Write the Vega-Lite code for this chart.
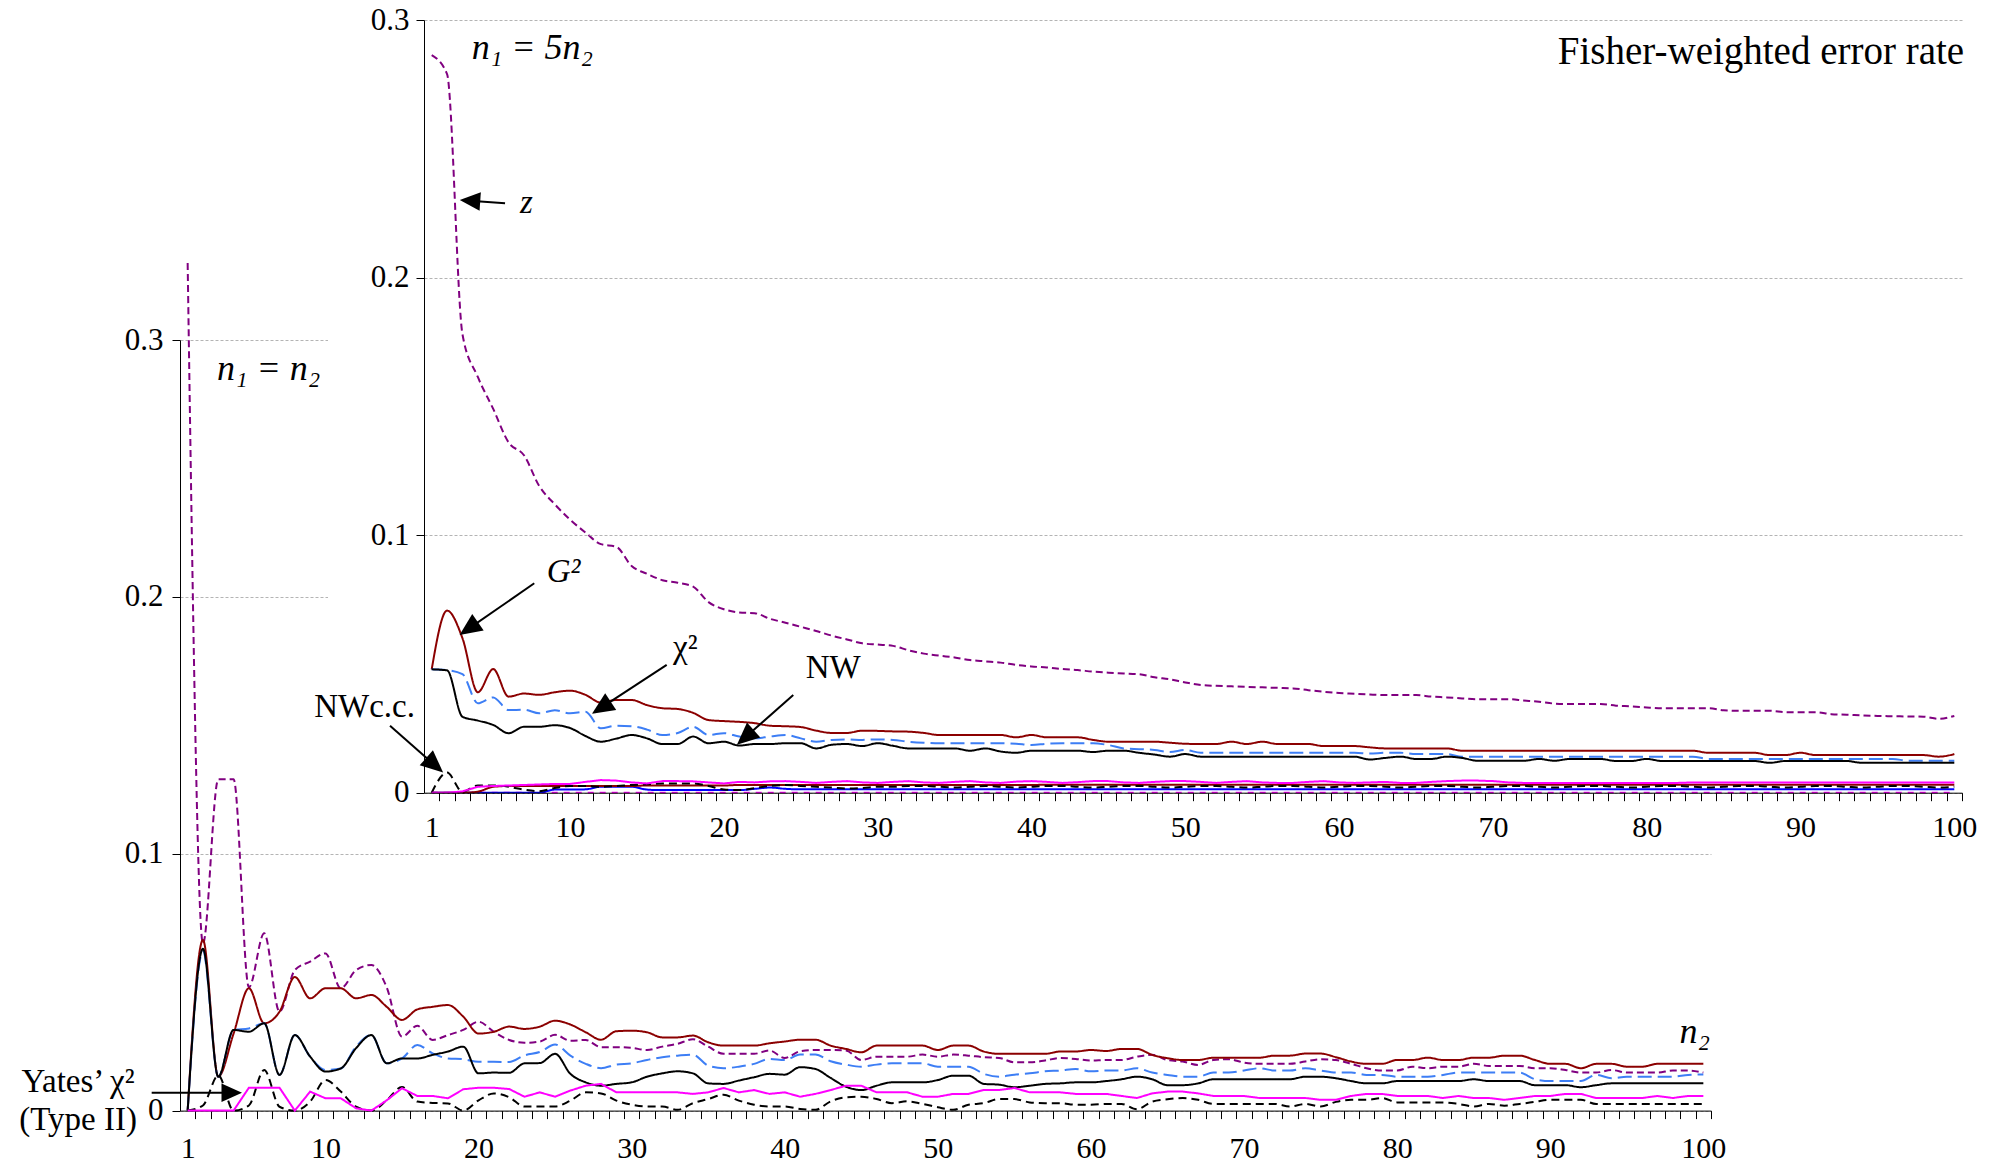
{
"$schema": "https://vega.github.io/schema/vega-lite/v6.json",
"width": 2004,
"height": 1167,
"autosize": {"type": "none"},
"padding": 0,
"background": "#ffffff",
"config": {
 "view": {"stroke": null},
 "font": "Liberation Serif",
 "axis": {"labelFont": "Liberation Serif", "labelFontSize": 30, "labelColor": "#000000", "domainColor": "#000000", "domainWidth": 1, "tickColor": "#000000", "tickWidth": 1, "tickSize": 8, "labelFlush": false, "labelOverlap": false}
},
"datasets": {
"lower": [
{"n2":1,"z":0.33,"G2":0,"chi2":0,"NW":0,"NWcc":0,"Yates":0},
{"n2":2,"z":0.065,"G2":0.0664,"chi2":0.062,"NW":0.063,"NWcc":0.002,"Yates":0},
{"n2":3,"z":0.129,"G2":0.0132,"chi2":0.0132,"NW":0.0132,"NWcc":0.0137,"Yates":0},
{"n2":4,"z":0.129,"G2":0.030,"chi2":0.0314,"NW":0.0314,"NWcc":0,"Yates":0},
{"n2":5,"z":0.048,"G2":0.0476,"chi2":0.032,"NW":0.0307,"NWcc":0.002,"Yates":0.0089},
{"n2":6,"z":0.069,"G2":0.034,"chi2":0.034,"NW":0.034,"NWcc":0.0158,"Yates":0.0089},
{"n2":7,"z":0.0385,"G2":0.0385,"chi2":0.0139,"NW":0.0139,"NWcc":0.0015,"Yates":0.0089},
{"n2":8,"z":0.0547,"G2":0.052,"chi2":0.0294,"NW":0.0294,"NWcc":0,"Yates":0},
{"n2":9,"z":0.058,"G2":0.0437,"chi2":0.021,"NW":0.021,"NWcc":0.0035,"Yates":0.0074},
{"n2":10,"z":0.0612,"G2":0.0476,"chi2":0.0158,"NW":0.0152,"NWcc":0.0119,"Yates":0.0048},
{"n2":11,"z":0.0476,"G2":0.0476,"chi2":0.0164,"NW":0.0164,"NWcc":0.0074,"Yates":0.0048},
{"n2":12,"z":0.0547,"G2":0.0437,"chi2":0.0249,"NW":0.0243,"NWcc":0.0015,"Yates":0.0009},
{"n2":13,"z":0.0567,"G2":0.045,"chi2":0.0294,"NW":0.0294,"NWcc":0,"Yates":0},
{"n2":14,"z":0.048,"G2":0.0404,"chi2":0.0184,"NW":0.0184,"NWcc":0.004,"Yates":0.004},
{"n2":15,"z":0.0288,"G2":0.0353,"chi2":0.0203,"NW":0.0203,"NWcc":0.0092,"Yates":0.0087},
{"n2":16,"z":0.033,"G2":0.0394,"chi2":0.0255,"NW":0.0203,"NWcc":0.0035,"Yates":0.0057},
{"n2":17,"z":0.0275,"G2":0.0404,"chi2":0.0223,"NW":0.0217,"NWcc":0.003,"Yates":0.0057},
{"n2":18,"z":0.0294,"G2":0.0411,"chi2":0.0203,"NW":0.023,"NWcc":0.0028,"Yates":0.0048},
{"n2":19,"z":0.0314,"G2":0.0366,"chi2":0.02,"NW":0.0249,"NWcc":0,"Yates":0.0083},
{"n2":20,"z":0.0346,"G2":0.030,"chi2":0.019,"NW":0.0145,"NWcc":0.004,"Yates":0.0089},
{"n2":21,"z":0.0307,"G2":0.0307,"chi2":0.019,"NW":0.0148,"NWcc":0.0067,"Yates":0.0089},
{"n2":22,"z":0.0275,"G2":0.0327,"chi2":0.0189,"NW":0.0147,"NWcc":0.0052,"Yates":0.0084},
{"n2":23,"z":0.0264,"G2":0.0318,"chi2":0.0215,"NW":0.0184,"NWcc":0.0016,"Yates":0.0054},
{"n2":24,"z":0.0269,"G2":0.0327,"chi2":0.0228,"NW":0.0185,"NWcc":0.0016,"Yates":0.0071},
{"n2":25,"z":0.0295,"G2":0.035,"chi2":0.0257,"NW":0.0221,"NWcc":0.0016,"Yates":0.0054},
{"n2":26,"z":0.0272,"G2":0.0335,"chi2":0.0214,"NW":0.0143,"NWcc":0.0039,"Yates":0.0078},
{"n2":27,"z":0.0275,"G2":0.0305,"chi2":0.0182,"NW":0.011,"NWcc":0.0071,"Yates":0.0097},
{"n2":28,"z":0.0247,"G2":0.0276,"chi2":0.0165,"NW":0.0097,"NWcc":0.0067,"Yates":0.0104},
{"n2":29,"z":0.0247,"G2":0.0309,"chi2":0.0179,"NW":0.0104,"NWcc":0.0039,"Yates":0.0071},
{"n2":30,"z":0.0244,"G2":0.0311,"chi2":0.0184,"NW":0.011,"NWcc":0.0023,"Yates":0.0071},
{"n2":31,"z":0.0236,"G2":0.0305,"chi2":0.0197,"NW":0.0132,"NWcc":0.0016,"Yates":0.0071},
{"n2":32,"z":0.0249,"G2":0.0285,"chi2":0.0208,"NW":0.0145,"NWcc":0.0016,"Yates":0.0071},
{"n2":33,"z":0.026,"G2":0.0285,"chi2":0.0214,"NW":0.0153,"NWcc":0.0003,"Yates":0.0071},
{"n2":34,"z":0.0278,"G2":0.0292,"chi2":0.0218,"NW":0.0145,"NWcc":0.0029,"Yates":0.0065},
{"n2":35,"z":0.0249,"G2":0.0266,"chi2":0.0175,"NW":0.0106,"NWcc":0.0045,"Yates":0.0071},
{"n2":36,"z":0.0221,"G2":0.0253,"chi2":0.0165,"NW":0.0104,"NWcc":0.0062,"Yates":0.0088},
{"n2":37,"z":0.0221,"G2":0.0253,"chi2":0.0171,"NW":0.0117,"NWcc":0.0039,"Yates":0.0071},
{"n2":38,"z":0.0221,"G2":0.0253,"chi2":0.0182,"NW":0.013,"NWcc":0.0023,"Yates":0.008},
{"n2":39,"z":0.0234,"G2":0.0262,"chi2":0.0201,"NW":0.0143,"NWcc":0.0016,"Yates":0.0065},
{"n2":40,"z":0.0205,"G2":0.0269,"chi2":0.0197,"NW":0.014,"NWcc":0.0016,"Yates":0.0071},
{"n2":41,"z":0.0231,"G2":0.0276,"chi2":0.0218,"NW":0.0169,"NWcc":0.0006,"Yates":0.0054},
{"n2":42,"z":0.0236,"G2":0.0276,"chi2":0.0218,"NW":0.0162,"NWcc":0.0003,"Yates":0.0065},
{"n2":43,"z":0.0236,"G2":0.0253,"chi2":0.0192,"NW":0.0127,"NWcc":0.0036,"Yates":0.008},
{"n2":44,"z":0.0234,"G2":0.024,"chi2":0.0179,"NW":0.0093,"NWcc":0.0052,"Yates":0.0097},
{"n2":45,"z":0.0197,"G2":0.0227,"chi2":0.0171,"NW":0.008,"NWcc":0.0054,"Yates":0.0097},
{"n2":46,"z":0.021,"G2":0.0253,"chi2":0.0179,"NW":0.0097,"NWcc":0.0045,"Yates":0.0071},
{"n2":47,"z":0.021,"G2":0.0253,"chi2":0.0184,"NW":0.011,"NWcc":0.0029,"Yates":0.0071},
{"n2":48,"z":0.021,"G2":0.0253,"chi2":0.0184,"NW":0.011,"NWcc":0.0036,"Yates":0.0071},
{"n2":49,"z":0.0218,"G2":0.0253,"chi2":0.0184,"NW":0.011,"NWcc":0.0026,"Yates":0.0054},
{"n2":50,"z":0.021,"G2":0.0236,"chi2":0.0171,"NW":0.0119,"NWcc":0.0013,"Yates":0.0054},
{"n2":51,"z":0.0218,"G2":0.0253,"chi2":0.0171,"NW":0.0136,"NWcc":0.0003,"Yates":0.0065},
{"n2":52,"z":0.0214,"G2":0.0253,"chi2":0.0171,"NW":0.0136,"NWcc":0.0023,"Yates":0.0065},
{"n2":53,"z":0.0208,"G2":0.023,"chi2":0.0143,"NW":0.0104,"NWcc":0.0029,"Yates":0.008},
{"n2":54,"z":0.0205,"G2":0.0221,"chi2":0.0132,"NW":0.0101,"NWcc":0.0045,"Yates":0.008},
{"n2":55,"z":0.0188,"G2":0.0221,"chi2":0.014,"NW":0.0091,"NWcc":0.0045,"Yates":0.0088},
{"n2":56,"z":0.0188,"G2":0.0221,"chi2":0.0145,"NW":0.0097,"NWcc":0.0032,"Yates":0.0071},
{"n2":57,"z":0.0195,"G2":0.0221,"chi2":0.0153,"NW":0.0104,"NWcc":0.0029,"Yates":0.0071},
{"n2":58,"z":0.0205,"G2":0.023,"chi2":0.0156,"NW":0.0106,"NWcc":0.0029,"Yates":0.0071},
{"n2":59,"z":0.0201,"G2":0.023,"chi2":0.0162,"NW":0.011,"NWcc":0.0023,"Yates":0.0065},
{"n2":60,"z":0.0195,"G2":0.0236,"chi2":0.0153,"NW":0.011,"NWcc":0.0023,"Yates":0.0065},
{"n2":61,"z":0.0197,"G2":0.0232,"chi2":0.0156,"NW":0.0115,"NWcc":0.0026,"Yates":0.0065},
{"n2":62,"z":0.0197,"G2":0.024,"chi2":0.0156,"NW":0.0122,"NWcc":0.0026,"Yates":0.0057},
{"n2":63,"z":0.021,"G2":0.024,"chi2":0.0165,"NW":0.0132,"NWcc":0.0005,"Yates":0.0049},
{"n2":64,"z":0.0217,"G2":0.0217,"chi2":0.0148,"NW":0.0122,"NWcc":0.0035,"Yates":0.0067},
{"n2":65,"z":0.0197,"G2":0.0204,"chi2":0.0139,"NW":0.0099,"NWcc":0.0044,"Yates":0.0074},
{"n2":66,"z":0.0191,"G2":0.0197,"chi2":0.0132,"NW":0.0099,"NWcc":0.0049,"Yates":0.0074},
{"n2":67,"z":0.0178,"G2":0.0197,"chi2":0.0132,"NW":0.0106,"NWcc":0.0042,"Yates":0.0067},
{"n2":68,"z":0.0197,"G2":0.0206,"chi2":0.0148,"NW":0.0122,"NWcc":0.0026,"Yates":0.0057},
{"n2":69,"z":0.02,"G2":0.0206,"chi2":0.0148,"NW":0.0122,"NWcc":0.0026,"Yates":0.0057},
{"n2":70,"z":0.0187,"G2":0.0206,"chi2":0.0156,"NW":0.0122,"NWcc":0.0026,"Yates":0.0057},
{"n2":71,"z":0.0182,"G2":0.0206,"chi2":0.0165,"NW":0.0122,"NWcc":0.0026,"Yates":0.0049},
{"n2":72,"z":0.0182,"G2":0.0214,"chi2":0.0156,"NW":0.0122,"NWcc":0.0026,"Yates":0.0049},
{"n2":73,"z":0.0182,"G2":0.0214,"chi2":0.0156,"NW":0.0122,"NWcc":0.0016,"Yates":0.0049},
{"n2":74,"z":0.0191,"G2":0.0222,"chi2":0.0165,"NW":0.0132,"NWcc":0.0026,"Yates":0.0049},
{"n2":75,"z":0.02,"G2":0.0222,"chi2":0.0156,"NW":0.0132,"NWcc":0.0016,"Yates":0.0042},
{"n2":76,"z":0.0197,"G2":0.0208,"chi2":0.0148,"NW":0.0126,"NWcc":0.0034,"Yates":0.0042},
{"n2":77,"z":0.0182,"G2":0.0191,"chi2":0.0148,"NW":0.0115,"NWcc":0.0042,"Yates":0.0057},
{"n2":78,"z":0.0165,"G2":0.0182,"chi2":0.0139,"NW":0.0106,"NWcc":0.0042,"Yates":0.0065},
{"n2":79,"z":0.0156,"G2":0.0182,"chi2":0.0139,"NW":0.0106,"NWcc":0.0049,"Yates":0.0065},
{"n2":80,"z":0.0156,"G2":0.0197,"chi2":0.0132,"NW":0.0115,"NWcc":0.0032,"Yates":0.0057},
{"n2":81,"z":0.0171,"G2":0.0197,"chi2":0.0132,"NW":0.0115,"NWcc":0.0032,"Yates":0.0057},
{"n2":82,"z":0.0165,"G2":0.0206,"chi2":0.0132,"NW":0.0115,"NWcc":0.0032,"Yates":0.0057},
{"n2":83,"z":0.0171,"G2":0.0197,"chi2":0.0139,"NW":0.0115,"NWcc":0.0032,"Yates":0.0049},
{"n2":84,"z":0.0171,"G2":0.0197,"chi2":0.0148,"NW":0.0115,"NWcc":0.0026,"Yates":0.0057},
{"n2":85,"z":0.0182,"G2":0.0206,"chi2":0.0148,"NW":0.0122,"NWcc":0.0016,"Yates":0.0049},
{"n2":86,"z":0.0174,"G2":0.0206,"chi2":0.0148,"NW":0.0115,"NWcc":0.0026,"Yates":0.0049},
{"n2":87,"z":0.0174,"G2":0.0214,"chi2":0.0148,"NW":0.0115,"NWcc":0.0019,"Yates":0.0042},
{"n2":88,"z":0.0174,"G2":0.0214,"chi2":0.0148,"NW":0.0115,"NWcc":0.0026,"Yates":0.0049},
{"n2":89,"z":0.0165,"G2":0.0197,"chi2":0.0122,"NW":0.0099,"NWcc":0.0034,"Yates":0.0057},
{"n2":90,"z":0.0165,"G2":0.0182,"chi2":0.0115,"NW":0.0099,"NWcc":0.0042,"Yates":0.0057},
{"n2":91,"z":0.0158,"G2":0.0182,"chi2":0.0115,"NW":0.0099,"NWcc":0.0042,"Yates":0.0065},
{"n2":92,"z":0.0148,"G2":0.0165,"chi2":0.0115,"NW":0.0091,"NWcc":0.0042,"Yates":0.0065},
{"n2":93,"z":0.0148,"G2":0.0182,"chi2":0.0139,"NW":0.0099,"NWcc":0.0026,"Yates":0.0049},
{"n2":94,"z":0.0158,"G2":0.0182,"chi2":0.0126,"NW":0.0106,"NWcc":0.0026,"Yates":0.0049},
{"n2":95,"z":0.0148,"G2":0.0171,"chi2":0.0132,"NW":0.0106,"NWcc":0.0026,"Yates":0.0049},
{"n2":96,"z":0.0148,"G2":0.0171,"chi2":0.0132,"NW":0.0106,"NWcc":0.0026,"Yates":0.0049},
{"n2":97,"z":0.0148,"G2":0.0182,"chi2":0.0132,"NW":0.0106,"NWcc":0.0026,"Yates":0.0057},
{"n2":98,"z":0.0156,"G2":0.0182,"chi2":0.0132,"NW":0.0106,"NWcc":0.0026,"Yates":0.0049},
{"n2":99,"z":0.0156,"G2":0.0182,"chi2":0.0139,"NW":0.0106,"NWcc":0.0026,"Yates":0.0057},
{"n2":100,"z":0.0148,"G2":0.0182,"chi2":0.0141,"NW":0.0106,"NWcc":0.0026,"Yates":0.0057}
],
"upper": [
{"n2":1,"z":0.2864,"G2":0.0479,"chi2":0.0479,"NW":0.0479,"NWcc":0,"Yates":0,"G2_II":0,"NW_II":0,"z_II":0},
{"n2":2,"z":0.279,"G2":0.0707,"chi2":0.0476,"NW":0.0475,"NWcc":0.0078,"Yates":0,"G2_II":0,"NW_II":0,"z_II":0},
{"n2":3,"z":0.178,"G2":0.060,"chi2":0.046,"NW":0.0295,"NWcc":0.0004,"Yates":0.0005,"G2_II":0,"NW_II":0,"z_II":0},
{"n2":4,"z":0.1614,"G2":0.039,"chi2":0.0347,"NW":0.028,"NWcc":0.0028,"Yates":0.0023,"G2_II":0.0004,"NW_II":0,"z_II":0},
{"n2":5,"z":0.149,"G2":0.048,"chi2":0.037,"NW":0.0263,"NWcc":0.0028,"Yates":0.0026,"G2_II":0.0023,"NW_II":0,"z_II":0},
{"n2":6,"z":0.136,"G2":0.0373,"chi2":0.0321,"NW":0.0231,"NWcc":0.0023,"Yates":0.0028,"G2_II":0.0026,"NW_II":0,"z_II":0},
{"n2":7,"z":0.131,"G2":0.0385,"chi2":0.0322,"NW":0.0256,"NWcc":0.0012,"Yates":0.003,"G2_II":0.0026,"NW_II":0,"z_II":0},
{"n2":8,"z":0.119,"G2":0.038,"chi2":0.0308,"NW":0.0256,"NWcc":0.0006,"Yates":0.0032,"G2_II":0.0026,"NW_II":0,"z_II":0},
{"n2":9,"z":0.112,"G2":0.039,"chi2":0.032,"NW":0.0262,"NWcc":0.0018,"Yates":0.0034,"G2_II":0.0026,"NW_II":0.0012,"z_II":0},
{"n2":10,"z":0.106,"G2":0.0396,"chi2":0.0308,"NW":0.0251,"NWcc":0.0026,"Yates":0.0034,"G2_II":0.0026,"NW_II":0.0012,"z_II":0},
{"n2":11,"z":0.101,"G2":0.038,"chi2":0.0314,"NW":0.022,"NWcc":0.0026,"Yates":0.0042,"G2_II":0.0026,"NW_II":0.0013,"z_II":0},
{"n2":12,"z":0.0965,"G2":0.035,"chi2":0.025,"NW":0.0198,"NWcc":0.0023,"Yates":0.0049,"G2_II":0.0026,"NW_II":0.0023,"z_II":0},
{"n2":13,"z":0.0955,"G2":0.036,"chi2":0.026,"NW":0.021,"NWcc":0.0026,"Yates":0.0047,"G2_II":0.0026,"NW_II":0.0023,"z_II":0},
{"n2":14,"z":0.088,"G2":0.036,"chi2":0.0258,"NW":0.0224,"NWcc":0.003,"Yates":0.004,"G2_II":0.0026,"NW_II":0.0023,"z_II":0},
{"n2":15,"z":0.085,"G2":0.034,"chi2":0.0245,"NW":0.0211,"NWcc":0.0033,"Yates":0.0036,"G2_II":0.0028,"NW_II":0.0012,"z_II":0},
{"n2":16,"z":0.0825,"G2":0.0328,"chi2":0.0224,"NW":0.0189,"NWcc":0.0036,"Yates":0.0045,"G2_II":0.0028,"NW_II":0.001,"z_II":0},
{"n2":17,"z":0.0815,"G2":0.0325,"chi2":0.0232,"NW":0.0189,"NWcc":0.0036,"Yates":0.0045,"G2_II":0.0028,"NW_II":0.001,"z_II":0},
{"n2":18,"z":0.080,"G2":0.031,"chi2":0.0256,"NW":0.0218,"NWcc":0.0036,"Yates":0.0044,"G2_II":0.0028,"NW_II":0.001,"z_II":0},
{"n2":19,"z":0.074,"G2":0.0282,"chi2":0.0224,"NW":0.0192,"NWcc":0.0026,"Yates":0.004,"G2_II":0.0028,"NW_II":0.001,"z_II":0},
{"n2":20,"z":0.0712,"G2":0.0278,"chi2":0.0231,"NW":0.0198,"NWcc":0.0012,"Yates":0.0036,"G2_II":0.0028,"NW_II":0.001,"z_II":0},
{"n2":21,"z":0.070,"G2":0.0275,"chi2":0.0218,"NW":0.0183,"NWcc":0.001,"Yates":0.0042,"G2_II":0.003,"NW_II":0.001,"z_II":0},
{"n2":22,"z":0.0697,"G2":0.027,"chi2":0.0211,"NW":0.0189,"NWcc":0.0018,"Yates":0.004,"G2_II":0.003,"NW_II":0.0015,"z_II":0},
{"n2":23,"z":0.0675,"G2":0.026,"chi2":0.0218,"NW":0.0189,"NWcc":0.0026,"Yates":0.0044,"G2_II":0.003,"NW_II":0.002,"z_II":0},
{"n2":24,"z":0.066,"G2":0.0258,"chi2":0.0224,"NW":0.0192,"NWcc":0.003,"Yates":0.0045,"G2_II":0.003,"NW_II":0.0015,"z_II":0},
{"n2":25,"z":0.0644,"G2":0.0255,"chi2":0.0211,"NW":0.0192,"NWcc":0.0026,"Yates":0.0042,"G2_II":0.003,"NW_II":0.0013,"z_II":0},
{"n2":26,"z":0.0628,"G2":0.0241,"chi2":0.0198,"NW":0.0172,"NWcc":0.0023,"Yates":0.0038,"G2_II":0.003,"NW_II":0.0013,"z_II":0},
{"n2":27,"z":0.061,"G2":0.0232,"chi2":0.0205,"NW":0.0186,"NWcc":0.002,"Yates":0.0042,"G2_II":0.003,"NW_II":0.0013,"z_II":0},
{"n2":28,"z":0.0595,"G2":0.0232,"chi2":0.0207,"NW":0.0189,"NWcc":0.0016,"Yates":0.0045,"G2_II":0.003,"NW_II":0.0013,"z_II":0},
{"n2":29,"z":0.058,"G2":0.0241,"chi2":0.0205,"NW":0.0181,"NWcc":0.0018,"Yates":0.004,"G2_II":0.003,"NW_II":0.0013,"z_II":0},
{"n2":30,"z":0.0575,"G2":0.024,"chi2":0.0207,"NW":0.0192,"NWcc":0.0023,"Yates":0.0038,"G2_II":0.003,"NW_II":0.0013,"z_II":0},
{"n2":31,"z":0.057,"G2":0.0238,"chi2":0.0205,"NW":0.0182,"NWcc":0.0023,"Yates":0.0042,"G2_II":0.003,"NW_II":0.0013,"z_II":0},
{"n2":32,"z":0.0553,"G2":0.0237,"chi2":0.0198,"NW":0.0172,"NWcc":0.0026,"Yates":0.0045,"G2_II":0.003,"NW_II":0.0013,"z_II":0},
{"n2":33,"z":0.054,"G2":0.0232,"chi2":0.0194,"NW":0.0172,"NWcc":0.0026,"Yates":0.004,"G2_II":0.003,"NW_II":0.0013,"z_II":0},
{"n2":34,"z":0.0532,"G2":0.0224,"chi2":0.0192,"NW":0.0172,"NWcc":0.0023,"Yates":0.0038,"G2_II":0.003,"NW_II":0.0013,"z_II":0},
{"n2":35,"z":0.0525,"G2":0.0224,"chi2":0.0192,"NW":0.0172,"NWcc":0.002,"Yates":0.0042,"G2_II":0.003,"NW_II":0.0013,"z_II":0},
{"n2":36,"z":0.0515,"G2":0.0224,"chi2":0.0192,"NW":0.0163,"NWcc":0.0023,"Yates":0.0045,"G2_II":0.003,"NW_II":0.0013,"z_II":0},
{"n2":37,"z":0.051,"G2":0.0224,"chi2":0.0192,"NW":0.0172,"NWcc":0.0026,"Yates":0.004,"G2_II":0.003,"NW_II":0.0013,"z_II":0},
{"n2":38,"z":0.0505,"G2":0.0224,"chi2":0.0192,"NW":0.016,"NWcc":0.0023,"Yates":0.0038,"G2_II":0.003,"NW_II":0.0013,"z_II":0},
{"n2":39,"z":0.0496,"G2":0.0215,"chi2":0.019,"NW":0.0155,"NWcc":0.002,"Yates":0.0043,"G2_II":0.003,"NW_II":0.0013,"z_II":0},
{"n2":40,"z":0.049,"G2":0.0224,"chi2":0.0185,"NW":0.0163,"NWcc":0.0023,"Yates":0.0045,"G2_II":0.003,"NW_II":0.0013,"z_II":0},
{"n2":41,"z":0.0486,"G2":0.0215,"chi2":0.019,"NW":0.0163,"NWcc":0.0026,"Yates":0.0042,"G2_II":0.0031,"NW_II":0.0013,"z_II":0},
{"n2":42,"z":0.048,"G2":0.0215,"chi2":0.0192,"NW":0.0163,"NWcc":0.0026,"Yates":0.0038,"G2_II":0.0031,"NW_II":0.0013,"z_II":0},
{"n2":43,"z":0.0476,"G2":0.0215,"chi2":0.0192,"NW":0.0163,"NWcc":0.0023,"Yates":0.0041,"G2_II":0.0031,"NW_II":0.0013,"z_II":0},
{"n2":44,"z":0.047,"G2":0.0205,"chi2":0.0192,"NW":0.0158,"NWcc":0.002,"Yates":0.0045,"G2_II":0.0031,"NW_II":0.0013,"z_II":0},
{"n2":45,"z":0.0466,"G2":0.0198,"chi2":0.0185,"NW":0.0163,"NWcc":0.0023,"Yates":0.0045,"G2_II":0.0031,"NW_II":0.0013,"z_II":0},
{"n2":46,"z":0.0463,"G2":0.0198,"chi2":0.0172,"NW":0.0163,"NWcc":0.0026,"Yates":0.004,"G2_II":0.0031,"NW_II":0.0013,"z_II":0},
{"n2":47,"z":0.046,"G2":0.0198,"chi2":0.0169,"NW":0.0155,"NWcc":0.0026,"Yates":0.0038,"G2_II":0.0031,"NW_II":0.0013,"z_II":0},
{"n2":48,"z":0.0448,"G2":0.0198,"chi2":0.0166,"NW":0.0148,"NWcc":0.0023,"Yates":0.0042,"G2_II":0.0031,"NW_II":0.0013,"z_II":0},
{"n2":49,"z":0.044,"G2":0.0194,"chi2":0.0158,"NW":0.014,"NWcc":0.002,"Yates":0.0045,"G2_II":0.0031,"NW_II":0.0013,"z_II":0},
{"n2":50,"z":0.0428,"G2":0.019,"chi2":0.0166,"NW":0.015,"NWcc":0.0023,"Yates":0.0045,"G2_II":0.0031,"NW_II":0.0013,"z_II":0},
{"n2":51,"z":0.0418,"G2":0.0189,"chi2":0.0155,"NW":0.014,"NWcc":0.0026,"Yates":0.0042,"G2_II":0.0031,"NW_II":0.0013,"z_II":0},
{"n2":52,"z":0.0415,"G2":0.0189,"chi2":0.0155,"NW":0.014,"NWcc":0.0026,"Yates":0.0038,"G2_II":0.0031,"NW_II":0.0013,"z_II":0},
{"n2":53,"z":0.0413,"G2":0.0198,"chi2":0.0155,"NW":0.014,"NWcc":0.0023,"Yates":0.0042,"G2_II":0.0031,"NW_II":0.0013,"z_II":0},
{"n2":54,"z":0.0411,"G2":0.0189,"chi2":0.0155,"NW":0.014,"NWcc":0.002,"Yates":0.0045,"G2_II":0.0031,"NW_II":0.0013,"z_II":0},
{"n2":55,"z":0.0409,"G2":0.0198,"chi2":0.0155,"NW":0.014,"NWcc":0.0023,"Yates":0.004,"G2_II":0.0031,"NW_II":0.0013,"z_II":0},
{"n2":56,"z":0.0407,"G2":0.0189,"chi2":0.0155,"NW":0.014,"NWcc":0.0026,"Yates":0.0038,"G2_II":0.0031,"NW_II":0.0013,"z_II":0},
{"n2":57,"z":0.0405,"G2":0.0189,"chi2":0.0155,"NW":0.014,"NWcc":0.0026,"Yates":0.0038,"G2_II":0.0031,"NW_II":0.0013,"z_II":0},
{"n2":58,"z":0.0398,"G2":0.0189,"chi2":0.0155,"NW":0.014,"NWcc":0.0023,"Yates":0.0042,"G2_II":0.0031,"NW_II":0.0013,"z_II":0},
{"n2":59,"z":0.0392,"G2":0.0181,"chi2":0.0155,"NW":0.014,"NWcc":0.002,"Yates":0.0045,"G2_II":0.0031,"NW_II":0.0013,"z_II":0},
{"n2":60,"z":0.0387,"G2":0.0181,"chi2":0.0155,"NW":0.014,"NWcc":0.0023,"Yates":0.004,"G2_II":0.0031,"NW_II":0.0013,"z_II":0},
{"n2":61,"z":0.0384,"G2":0.0181,"chi2":0.0155,"NW":0.014,"NWcc":0.0026,"Yates":0.0038,"G2_II":0.0031,"NW_II":0.0013,"z_II":0},
{"n2":62,"z":0.0381,"G2":0.0176,"chi2":0.0152,"NW":0.0129,"NWcc":0.0026,"Yates":0.004,"G2_II":0.0031,"NW_II":0.0013,"z_II":0},
{"n2":63,"z":0.0379,"G2":0.0172,"chi2":0.0155,"NW":0.0135,"NWcc":0.0023,"Yates":0.0042,"G2_II":0.0031,"NW_II":0.0013,"z_II":0},
{"n2":64,"z":0.0379,"G2":0.0172,"chi2":0.0155,"NW":0.014,"NWcc":0.002,"Yates":0.0038,"G2_II":0.0031,"NW_II":0.0013,"z_II":0},
{"n2":65,"z":0.0379,"G2":0.0172,"chi2":0.015,"NW":0.0131,"NWcc":0.0023,"Yates":0.0038,"G2_II":0.0031,"NW_II":0.0013,"z_II":0},
{"n2":66,"z":0.0373,"G2":0.0172,"chi2":0.015,"NW":0.0131,"NWcc":0.0026,"Yates":0.0042,"G2_II":0.0031,"NW_II":0.0013,"z_II":0},
{"n2":67,"z":0.037,"G2":0.0172,"chi2":0.015,"NW":0.014,"NWcc":0.0026,"Yates":0.0045,"G2_II":0.0031,"NW_II":0.0013,"z_II":0},
{"n2":68,"z":0.0366,"G2":0.0163,"chi2":0.014,"NW":0.0135,"NWcc":0.0023,"Yates":0.0047,"G2_II":0.0031,"NW_II":0.0013,"z_II":0},
{"n2":69,"z":0.0363,"G2":0.0163,"chi2":0.014,"NW":0.0124,"NWcc":0.002,"Yates":0.0047,"G2_II":0.0031,"NW_II":0.0013,"z_II":0},
{"n2":70,"z":0.0363,"G2":0.0163,"chi2":0.014,"NW":0.0124,"NWcc":0.0023,"Yates":0.0045,"G2_II":0.0031,"NW_II":0.0013,"z_II":0},
{"n2":71,"z":0.0363,"G2":0.0163,"chi2":0.014,"NW":0.0124,"NWcc":0.0026,"Yates":0.004,"G2_II":0.0031,"NW_II":0.0013,"z_II":0},
{"n2":72,"z":0.0358,"G2":0.0163,"chi2":0.014,"NW":0.0124,"NWcc":0.0026,"Yates":0.0038,"G2_II":0.0031,"NW_II":0.0013,"z_II":0},
{"n2":73,"z":0.0353,"G2":0.0163,"chi2":0.014,"NW":0.0131,"NWcc":0.0023,"Yates":0.0038,"G2_II":0.0031,"NW_II":0.0013,"z_II":0},
{"n2":74,"z":0.0346,"G2":0.0163,"chi2":0.014,"NW":0.0124,"NWcc":0.002,"Yates":0.0038,"G2_II":0.0031,"NW_II":0.0013,"z_II":0},
{"n2":75,"z":0.0344,"G2":0.0163,"chi2":0.014,"NW":0.0131,"NWcc":0.0023,"Yates":0.0038,"G2_II":0.0031,"NW_II":0.0013,"z_II":0},
{"n2":76,"z":0.0344,"G2":0.0163,"chi2":0.014,"NW":0.0131,"NWcc":0.0026,"Yates":0.0038,"G2_II":0.0031,"NW_II":0.0013,"z_II":0},
{"n2":77,"z":0.0344,"G2":0.0163,"chi2":0.014,"NW":0.0131,"NWcc":0.0026,"Yates":0.0038,"G2_II":0.0031,"NW_II":0.0013,"z_II":0},
{"n2":78,"z":0.0338,"G2":0.0163,"chi2":0.014,"NW":0.0123,"NWcc":0.0023,"Yates":0.0038,"G2_II":0.0031,"NW_II":0.0013,"z_II":0},
{"n2":79,"z":0.0335,"G2":0.0163,"chi2":0.014,"NW":0.0123,"NWcc":0.002,"Yates":0.0038,"G2_II":0.0031,"NW_II":0.0013,"z_II":0},
{"n2":80,"z":0.0331,"G2":0.0163,"chi2":0.014,"NW":0.0131,"NWcc":0.0023,"Yates":0.0038,"G2_II":0.0031,"NW_II":0.0013,"z_II":0},
{"n2":81,"z":0.0328,"G2":0.0163,"chi2":0.014,"NW":0.0123,"NWcc":0.0026,"Yates":0.0038,"G2_II":0.0031,"NW_II":0.0013,"z_II":0},
{"n2":82,"z":0.0328,"G2":0.0163,"chi2":0.014,"NW":0.0123,"NWcc":0.0026,"Yates":0.0038,"G2_II":0.0031,"NW_II":0.0013,"z_II":0},
{"n2":83,"z":0.0328,"G2":0.0163,"chi2":0.014,"NW":0.0123,"NWcc":0.0023,"Yates":0.004,"G2_II":0.0031,"NW_II":0.0013,"z_II":0},
{"n2":84,"z":0.0328,"G2":0.0155,"chi2":0.0131,"NW":0.0123,"NWcc":0.002,"Yates":0.004,"G2_II":0.0031,"NW_II":0.0013,"z_II":0},
{"n2":85,"z":0.032,"G2":0.0155,"chi2":0.0131,"NW":0.0123,"NWcc":0.0023,"Yates":0.004,"G2_II":0.0031,"NW_II":0.0013,"z_II":0},
{"n2":86,"z":0.0318,"G2":0.0155,"chi2":0.0131,"NW":0.0123,"NWcc":0.0026,"Yates":0.004,"G2_II":0.0031,"NW_II":0.0013,"z_II":0},
{"n2":87,"z":0.0318,"G2":0.0155,"chi2":0.0131,"NW":0.0123,"NWcc":0.0026,"Yates":0.004,"G2_II":0.0031,"NW_II":0.0013,"z_II":0},
{"n2":88,"z":0.0318,"G2":0.0146,"chi2":0.0131,"NW":0.0116,"NWcc":0.0023,"Yates":0.004,"G2_II":0.0031,"NW_II":0.0013,"z_II":0},
{"n2":89,"z":0.0313,"G2":0.0146,"chi2":0.0131,"NW":0.0123,"NWcc":0.002,"Yates":0.004,"G2_II":0.0031,"NW_II":0.0013,"z_II":0},
{"n2":90,"z":0.0312,"G2":0.0155,"chi2":0.0131,"NW":0.0123,"NWcc":0.0023,"Yates":0.004,"G2_II":0.0031,"NW_II":0.0013,"z_II":0},
{"n2":91,"z":0.0312,"G2":0.0146,"chi2":0.0131,"NW":0.0123,"NWcc":0.0026,"Yates":0.004,"G2_II":0.0031,"NW_II":0.0013,"z_II":0},
{"n2":92,"z":0.0305,"G2":0.0146,"chi2":0.0131,"NW":0.0123,"NWcc":0.0026,"Yates":0.004,"G2_II":0.0031,"NW_II":0.0013,"z_II":0},
{"n2":93,"z":0.0303,"G2":0.0146,"chi2":0.0131,"NW":0.0123,"NWcc":0.0023,"Yates":0.004,"G2_II":0.0031,"NW_II":0.0013,"z_II":0},
{"n2":94,"z":0.03,"G2":0.0146,"chi2":0.0131,"NW":0.0116,"NWcc":0.002,"Yates":0.004,"G2_II":0.0031,"NW_II":0.0013,"z_II":0},
{"n2":95,"z":0.0298,"G2":0.0146,"chi2":0.0131,"NW":0.0116,"NWcc":0.0023,"Yates":0.004,"G2_II":0.0031,"NW_II":0.0013,"z_II":0},
{"n2":96,"z":0.0297,"G2":0.0146,"chi2":0.0131,"NW":0.0116,"NWcc":0.0026,"Yates":0.004,"G2_II":0.0031,"NW_II":0.0013,"z_II":0},
{"n2":97,"z":0.0296,"G2":0.0146,"chi2":0.0124,"NW":0.0116,"NWcc":0.0026,"Yates":0.004,"G2_II":0.0031,"NW_II":0.0013,"z_II":0},
{"n2":98,"z":0.0295,"G2":0.0146,"chi2":0.0124,"NW":0.0116,"NWcc":0.0023,"Yates":0.004,"G2_II":0.0031,"NW_II":0.0013,"z_II":0},
{"n2":99,"z":0.0287,"G2":0.014,"chi2":0.0124,"NW":0.0116,"NWcc":0.002,"Yates":0.004,"G2_II":0.0031,"NW_II":0.0013,"z_II":0},
{"n2":100,"z":0.0298,"G2":0.015,"chi2":0.0124,"NW":0.0116,"NWcc":0.0023,"Yates":0.004,"G2_II":0.0031,"NW_II":0.0013,"z_II":0}
]
},
"layer": [
{
 "resolve": {"axis": {"x": "independent"}},
 "layer": [
  {
   "data": {"name": "lower"},
   "transform": [{"fold": ["z", "G2", "chi2", "NW", "NWcc"], "as": ["series", "rate"]}],
   "mark": {"type": "line", "interpolate": "monotone", "strokeWidth": 2},
   "encoding": {
    "x": {"field": "n2", "type": "quantitative",
      "scale": {"domain": [0.5, 100.5], "range": [180, 1711], "nice": false, "zero": false},
      "axis": {"orient": "bottom", "offset": -56.4, "title": null, "grid": false, "labels": false, "values": [0,1,2,3,4,5,6,7,8,9,10,11,12,13,14,15,16,17,18,19,20,21,22,23,24,25,26,27,28,29,30,31,32,33,34,35,36,37,38,39,40,41,42,43,44,45,46,47,48,49,50,51,52,53,54,55,56,57,58,59,60,61,62,63,64,65,66,67,68,69,70,71,72,73,74,75,76,77,78,79,80,81,82,83,84,85,86,87,88,89,90,91,92,93,94,95,96,97,98,99,100],
        "tickOffset": 7.655}},
    "y": {"field": "rate", "type": "quantitative",
      "scale": {"domain": [0, 0.3], "range": [1110.6, 340], "nice": false, "zero": false},
      "axis": {"orient": "left", "offset": -180, "title": null, "labelOverlap": false, "labelFlush": false, "values": [0, 0.1, 0.2, 0.3], "format": "~g", "labelPadding": 9, "labelFontSize": 31,
        "grid": true, "gridColor": "#b4b4b4", "gridDash": [3, 2], "gridWidth": 1}},
    "color": {"field": "series", "type": "nominal", "legend": null,
      "scale": {"domain": ["z", "G2", "chi2", "NW", "NWcc", "Yates", "G2_II", "NW_II", "z_II"], "range": ["#800080", "#8b0000", "#3d7ef5", "#000000", "#000000", "#ff00ff", "#8b0000", "#0000ff", "#ff00ff"]}},
    "strokeDash": {"field": "series", "type": "nominal", "legend": null,
      "scale": {"domain": ["z", "G2", "chi2", "NW", "NWcc", "Yates", "G2_II", "NW_II", "z_II"], "range": [[7, 4], [1, 0], [14, 6], [1, 0], [8, 5], [1, 0], [1, 0], [1, 0], [6, 6]]}}
   }
  },
  {
   "data": {"name": "lower"},
   "transform": [{"fold": ["Yates"], "as": ["series", "rate"]}],
   "mark": {"type": "line", "interpolate": "linear", "strokeWidth": 2},
   "encoding": {
    "x": {"field": "n2", "type": "quantitative",
      "axis": {"orient": "bottom", "offset": -56.4, "title": null, "grid": false, "ticks": false, "domain": false, "labelOverlap": false, "labelFlush": false, "labelBound": false, "values": [1, 10, 20, 30, 40, 50, 60, 70, 80, 90, 100], "format": "d", "labelPadding": 23}},
    "y": {"field": "rate", "type": "quantitative"},
    "color": {"field": "series", "type": "nominal", "legend": null},
    "strokeDash": {"field": "series", "type": "nominal", "legend": null}
   }
  },
  {"data": {"values": [{}]}, "mark": {"type": "text", "align": "left", "baseline": "alphabetic", "fontSize": 36, "fontStyle": "italic", "color": "#000000", "font": "Liberation Serif"},
   "encoding": {"x": {"datum": 2.92, "axis": null}, "y": {"datum": 0.2844}, "text": {"value": "n₁ = n₂"}}},
  {"data": {"values": [{}]}, "mark": {"type": "text", "align": "right", "baseline": "alphabetic", "fontSize": 36, "fontStyle": "italic", "color": "#000000", "font": "Liberation Serif"},
   "encoding": {"x": {"datum": 100.43, "axis": null}, "y": {"datum": 0.0263}, "text": {"value": "n₂"}}},
  {"data": {"values": [{}]}, "mark": {"type": "text", "align": "center", "baseline": "alphabetic", "fontSize": 33, "color": "#000000", "font": "Liberation Serif"},
   "encoding": {"x": {"datum": -6.16, "axis": null}, "y": {"datum": 0.00736}, "text": {"value": "Yates’ χ²"}}},
  {"data": {"values": [{}]}, "mark": {"type": "text", "align": "center", "baseline": "alphabetic", "fontSize": 33, "color": "#000000", "font": "Liberation Serif"},
   "encoding": {"x": {"datum": -6.16, "axis": null}, "y": {"datum": -0.00755}, "text": {"value": "(Type II)"}}},
  {"data": {"values": [{}]}, "mark": {"type": "rule", "strokeWidth": 2, "color": "#000000"},
   "encoding": {"x": {"datum": -1.35, "axis": null}, "x2": {"datum": 3.88}, "y": {"datum": 0.00697}, "y2": {"datum": 0.00697}}},
  {"data": {"values": [{}]}, "mark": {"type": "point", "shape": "M1,0L-1,-0.9L-1,0.9Z", "filled": true, "color": "#000000", "opacity": 1, "size": 420, "angle": 0},
   "encoding": {"x": {"datum": 3.88, "axis": null}, "y": {"datum": 0.00697}}},
  {"data": {"values": [{}]}, "mark": {"type": "rect", "fill": "#ffffff", "strokeWidth": 0},
   "encoding": {"x": {"datum": 10.17, "axis": null}, "x2": {"datum": 119.6}, "y": {"datum": 0.4323}, "y2": {"datum": 0.1022}}}
 ]
},
{
 "resolve": {"axis": {"x": "independent"}},
 "layer": [
  {
   "data": {"name": "upper"},
   "transform": [{"fold": ["z_II", "NW_II", "G2_II", "NWcc", "z", "G2", "chi2", "NW"], "as": ["series", "rate"]}],
   "mark": {"type": "line", "interpolate": "monotone", "strokeWidth": 2},
   "encoding": {
    "x": {"field": "n2", "type": "quantitative",
      "scale": {"domain": [0.5, 100.5], "range": [424, 1962], "nice": false, "zero": false},
      "axis": {"orient": "bottom", "offset": -374.3, "zindex": 1, "title": null, "grid": false, "labels": false, "values": [0,1,2,3,4,5,6,7,8,9,10,11,12,13,14,15,16,17,18,19,20,21,22,23,24,25,26,27,28,29,30,31,32,33,34,35,36,37,38,39,40,41,42,43,44,45,46,47,48,49,50,51,52,53,54,55,56,57,58,59,60,61,62,63,64,65,66,67,68,69,70,71,72,73,74,75,76,77,78,79,80,81,82,83,84,85,86,87,88,89,90,91,92,93,94,95,96,97,98,99,100],
        "tickOffset": 7.69}},
    "y": {"field": "rate", "type": "quantitative",
      "scale": {"domain": [0, 0.3], "range": [792.7, 20], "nice": false, "zero": false},
      "axis": {"orient": "left", "offset": -424, "zindex": 1, "title": null, "labelOverlap": false, "labelFlush": false, "values": [0, 0.1, 0.2, 0.3], "format": "~g", "labelPadding": 7, "labelFontSize": 31,
        "grid": true, "gridColor": "#b4b4b4", "gridDash": [3, 2], "gridWidth": 1}},
    "color": {"field": "series", "type": "nominal", "legend": null,
      "scale": {"domain": ["z", "G2", "chi2", "NW", "NWcc", "Yates", "G2_II", "NW_II", "z_II"], "range": ["#800080", "#8b0000", "#3d7ef5", "#000000", "#000000", "#ff00ff", "#8b0000", "#0000ff", "#ff00ff"]}},
    "strokeDash": {"field": "series", "type": "nominal", "legend": null,
      "scale": {"domain": ["z", "G2", "chi2", "NW", "NWcc", "Yates", "G2_II", "NW_II", "z_II"], "range": [[7, 4], [1, 0], [14, 6], [1, 0], [8, 5], [1, 0], [1, 0], [1, 0], [6, 6]]}}
   }
  },
  {
   "data": {"name": "upper"},
   "transform": [{"fold": ["Yates"], "as": ["series", "rate"]}],
   "mark": {"type": "line", "interpolate": "linear", "strokeWidth": 2},
   "encoding": {
    "x": {"field": "n2", "type": "quantitative",
      "axis": {"orient": "bottom", "offset": -374.3, "zindex": 1, "title": null, "grid": false, "ticks": false, "domain": false, "labelOverlap": false, "labelFlush": false, "labelBound": false, "values": [1, 10, 20, 30, 40, 50, 60, 70, 80, 90, 100], "format": "d", "labelPadding": 20}},
    "y": {"field": "rate", "type": "quantitative"},
    "color": {"field": "series", "type": "nominal", "legend": null},
    "strokeDash": {"field": "series", "type": "nominal", "legend": null}
   }
  },
  {"data": {"values": [{}]}, "mark": {"type": "text", "align": "right", "baseline": "alphabetic", "fontSize": 39, "color": "#000000", "font": "Liberation Serif"},
   "encoding": {"x": {"datum": 100.64, "axis": null}, "y": {"datum": 0.283}, "text": {"value": "Fisher-weighted error rate"}}},
  {"data": {"values": [{}]}, "mark": {"type": "text", "align": "left", "baseline": "alphabetic", "fontSize": 36, "fontStyle": "italic", "color": "#000000", "font": "Liberation Serif"},
   "encoding": {"x": {"datum": 3.6, "axis": null}, "y": {"datum": 0.2847}, "text": {"value": "n₁ = 5n₂"}}},
  {"data": {"values": [{}]}, "mark": {"type": "text", "align": "left", "baseline": "alphabetic", "fontSize": 33, "fontStyle": "italic", "color": "#000000", "font": "Liberation Serif"},
   "encoding": {"x": {"datum": 6.74, "axis": null}, "y": {"datum": 0.225}, "text": {"value": "z"}}},
  {"data": {"values": [{}]}, "mark": {"type": "text", "align": "left", "baseline": "alphabetic", "fontSize": 33, "fontStyle": "italic", "color": "#000000", "font": "Liberation Serif"},
   "encoding": {"x": {"datum": 8.48, "axis": null}, "y": {"datum": 0.0819}, "text": {"value": "G²"}}},
  {"data": {"values": [{}]}, "mark": {"type": "text", "align": "left", "baseline": "alphabetic", "fontSize": 33, "color": "#000000", "font": "Liberation Serif"},
   "encoding": {"x": {"datum": 16.69, "axis": null}, "y": {"datum": 0.0522}, "text": {"value": "χ²"}}},
  {"data": {"values": [{}]}, "mark": {"type": "text", "align": "left", "baseline": "alphabetic", "fontSize": 33, "color": "#000000", "font": "Liberation Serif"},
   "encoding": {"x": {"datum": 25.32, "axis": null}, "y": {"datum": 0.0445}, "text": {"value": "NW"}}},
  {"data": {"values": [{}]}, "mark": {"type": "text", "align": "right", "baseline": "alphabetic", "fontSize": 33, "color": "#000000", "font": "Liberation Serif"},
   "encoding": {"x": {"datum": -0.085, "axis": null}, "y": {"datum": 0.0295}, "text": {"value": "NWc.c."}}},
  {"data": {"values": [{}]}, "mark": {"type": "rule", "strokeWidth": 2, "color": "#000000"},
   "encoding": {"x": {"datum": 5.77, "axis": null}, "x2": {"datum": 3.49}, "y": {"datum": 0.2289}, "y2": {"datum": 0.2298}}},
  {"data": {"values": [{}]}, "mark": {"type": "point", "shape": "M1,0L-1,-0.9L-1,0.9Z", "filled": true, "color": "#000000", "opacity": 1, "size": 420, "angle": 184},
   "encoding": {"x": {"datum": 3.49, "axis": null}, "y": {"datum": 0.2298}}},
  {"data": {"values": [{}]}, "mark": {"type": "rule", "strokeWidth": 2, "color": "#000000"},
   "encoding": {"x": {"datum": 7.67, "axis": null}, "x2": {"datum": 3.41}, "y": {"datum": 0.0813}, "y2": {"datum": 0.0637}}},
  {"data": {"values": [{}]}, "mark": {"type": "point", "shape": "M1,0L-1,-0.9L-1,0.9Z", "filled": true, "color": "#000000", "opacity": 1, "size": 500, "angle": 145.4},
   "encoding": {"x": {"datum": 3.41, "axis": null}, "y": {"datum": 0.0637}}},
  {"data": {"values": [{}]}, "mark": {"type": "rule", "strokeWidth": 2, "color": "#000000"},
   "encoding": {"x": {"datum": 16.28, "axis": null}, "x2": {"datum": 12.03}, "y": {"datum": 0.0496}, "y2": {"datum": 0.033}}},
  {"data": {"values": [{}]}, "mark": {"type": "point", "shape": "M1,0L-1,-0.9L-1,0.9Z", "filled": true, "color": "#000000", "opacity": 1, "size": 500, "angle": 146.8},
   "encoding": {"x": {"datum": 12.03, "axis": null}, "y": {"datum": 0.033}}},
  {"data": {"values": [{}]}, "mark": {"type": "rule", "strokeWidth": 2, "color": "#000000"},
   "encoding": {"x": {"datum": 24.51, "axis": null}, "x2": {"datum": 21.39}, "y": {"datum": 0.0379}, "y2": {"datum": 0.0215}}},
  {"data": {"values": [{}]}, "mark": {"type": "point", "shape": "M1,0L-1,-0.9L-1,0.9Z", "filled": true, "color": "#000000", "opacity": 1, "size": 500, "angle": 138.5},
   "encoding": {"x": {"datum": 21.39, "axis": null}, "y": {"datum": 0.0215}}},
  {"data": {"values": [{}]}, "mark": {"type": "rule", "strokeWidth": 2, "color": "#000000"},
   "encoding": {"x": {"datum": -1.71, "axis": null}, "x2": {"datum": 1.196}, "y": {"datum": 0.026}, "y2": {"datum": 0.0107}}},
  {"data": {"values": [{}]}, "mark": {"type": "point", "shape": "M1,0L-1,-0.9L-1,0.9Z", "filled": true, "color": "#000000", "opacity": 1, "size": 500, "angle": 41.2},
   "encoding": {"x": {"datum": 1.196, "axis": null}, "y": {"datum": 0.0107}}}
 ]
}
],
"resolve": {"scale": {"x": "independent", "y": "independent"}}
}
